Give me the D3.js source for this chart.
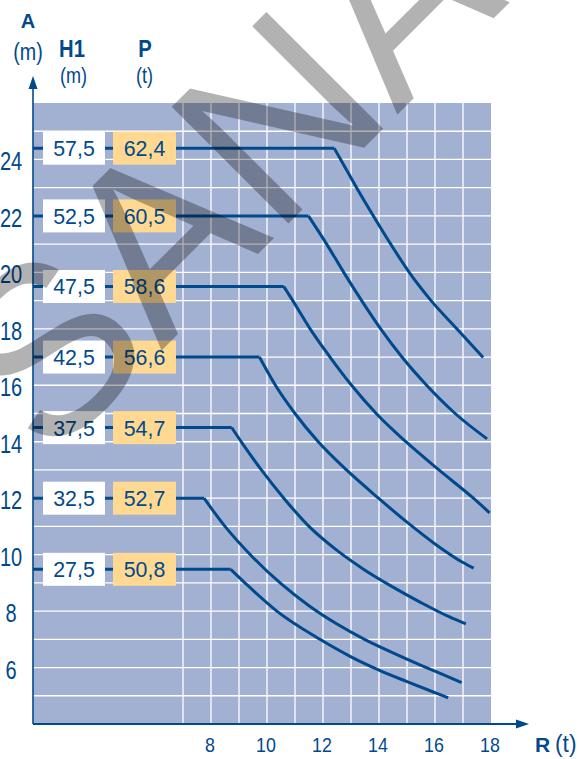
<!DOCTYPE html>
<html lang="de">
<head>
<meta charset="utf-8">
<title>Lastkurven A / R</title>
<script src="https://cdn.jsdelivr.net/npm/d3@7"></script>
<style>
  body { margin: 0; background: #fff; }
  svg { display: block; }
  text { font-family: "Liberation Sans", Arial, sans-serif; fill: #00498c; }
  .bold { font-weight: bold; }
</style>
</head>
<body>
<script>
// label columns next to each curve
var hookHeights = ["57,5", "52,5", "47,5", "42,5", "37,5", "32,5", "27,5"];
var loads = ["62,4", "60,5", "58,6", "56,6", "54,7", "52,7", "50,8"];

// curves: [R (t), A (m)], first point = end of the flat part
var curve1 = [[12.4, 24.4], [12.63, 24], [13.2, 23], [13.8, 22], [14.42, 21], [15.08, 20], [15.86, 19], [16.78, 18], [17.72, 16.98]];
var curve2 = [[11.48, 22], [12.13, 21], [12.74, 20], [13.38, 19], [14.06, 18], [14.82, 17], [15.7, 16], [16.72, 15], [17.86, 14.1]];
var curve3 = [[10.6, 19.5], [10.92, 19], [11.54, 18], [12.25, 17], [13.02, 16], [13.9, 15], [14.96, 14], [16.14, 13], [17.37, 12], [17.95, 11.48]];
var curve4 = [[9.73, 17], [10.3, 16], [11.0, 15], [11.83, 14], [12.84, 13], [13.98, 12], [15, 11.15], [16, 10.38], [17, 9.72], [17.38, 9.52]];
var curve5 = [[8.74, 14.5], [9.15, 13.9], [9.8, 13], [10.6, 12], [11.5, 11], [12.5, 10.15], [13.5, 9.45], [14.5, 8.85], [15.5, 8.3], [16.5, 7.8], [17.1, 7.55]];
var curve6 = [[7.75, 12], [8.5, 11], [9.5, 9.9], [10.5, 8.97], [11.5, 8.19], [12.5, 7.54], [13.5, 6.99], [14.5, 6.52], [15.5, 6.08], [16.5, 5.66], [16.95, 5.47]];
var curve7 = [[8.7, 9.48], [9.21, 9], [10.35, 8], [11.89, 7], [13, 6.38], [14, 5.91], [15, 5.5], [16, 5.11], [16.47, 4.93]];
var curves = [curve1, curve2, curve3, curve4, curve5, curve6, curve7];

var xTicks = [8, 10, 12, 14, 16, 18];
var yTicks = [6, 8, 10, 12, 14, 16, 18, 20, 22, 24];

var W = 579, H = 759;
var blue = "#00498c";
var plotLeft = 33;

var x = d3.scaleLinear().domain([7, 18]).range([183, 491]);
var y = d3.scaleLinear().domain([4, 26]).range([724, 103]);

var svg = d3.select("body").append("svg")
  .attr("width", W)
  .attr("height", H);

// background
svg.append("rect")
  .attr("x", plotLeft)
  .attr("y", y(26))
  .attr("width", x(18) - plotLeft)
  .attr("height", y(4) - y(26))
  .attr("fill", "#a2b1d2");

// grid
svg.append("g").selectAll("line")
  .data(d3.range(5, 26))
  .enter().append("line")
  .attr("x1", plotLeft).attr("x2", x(18))
  .attr("y1", d => y(d)).attr("y2", d => y(d))
  .attr("stroke", "#fff").attr("stroke-width", 1.3);

svg.append("g").selectAll("line")
  .data(d3.range(7, 18))
  .enter().append("line")
  .attr("x1", d => x(d)).attr("x2", d => x(d))
  .attr("y1", y(26)).attr("y2", y(4))
  .attr("stroke", "#fff").attr("stroke-width", 1.3);

// curves
var line = d3.line()
  .x(d => x(d[0]))
  .y(d => y(d[1]))
  .curve(d3.curveMonotoneX);

curves.forEach(function(c) {
  // flat part from the axis to the knee
  svg.append("line")
    .attr("x1", plotLeft).attr("x2", x(c[0][0]))
    .attr("y1", y(c[0][1])).attr("y2", y(c[0][1]))
    .attr("stroke", blue).attr("stroke-width", 3);
  svg.append("path")
    .attr("d", line(c))
    .attr("fill", "none")
    .attr("stroke", blue)
    .attr("stroke-width", 3);
});

// condensed text helper
function ctext(txt, px, py, size, sx, cls, anchor) {
  return svg.append("text")
    .attr("class", cls || null)
    .attr("transform", "translate(" + px + "," + py + ") scale(" + sx + ",1)")
    .attr("text-anchor", anchor || "middle")
    .attr("font-size", size)
    .text(txt);
}

// label boxes
curves.forEach(function(c, i) {
  var cy = y(c[0][1]);
  svg.append("rect")
    .attr("x", 43).attr("y", cy - 16.5)
    .attr("width", 62).attr("height", 33)
    .attr("fill", "#fff");
  svg.append("rect")
    .attr("x", 113).attr("y", cy - 16.5)
    .attr("width", 63).attr("height", 33)
    .attr("fill", "#ffd892");
  ctext(hookHeights[i], 74, cy + 8, 22, 0.97);
  ctext(loads[i], 144.5, cy + 8, 22, 0.97);
});

// axes
svg.append("line")
  .attr("x1", plotLeft).attr("x2", plotLeft)
  .attr("y1", y(4)).attr("y2", 88)
  .attr("stroke", blue).attr("stroke-width", 1.6);
svg.append("path")
  .attr("d", "M" + plotLeft + ",76L" + (plotLeft - 4.5) + ",89L" + (plotLeft + 4.5) + ",89Z")
  .attr("fill", blue);
svg.append("line")
  .attr("x1", plotLeft).attr("x2", 517)
  .attr("y1", y(4)).attr("y2", y(4))
  .attr("stroke", blue).attr("stroke-width", 2);
svg.append("path")
  .attr("d", "M529," + y(4) + "L516," + (y(4) - 4.5) + "L516," + (y(4) + 4.5) + "Z")
  .attr("fill", blue);

// tick labels
xTicks.forEach(function(d) {
  ctext(d, x(d) - 1, 752, 21, 0.85);
});
yTicks.forEach(function(d) {
  ctext(d, 11, y(d) + 11, 25, 0.8);
});

// headers
ctext("A", 28, 28, 20, 1, "bold");
ctext("(m)", 28, 60, 24, 0.82);
ctext("H1", 72, 57, 23, 0.88, "bold");
ctext("(m)", 73.5, 83, 22, 0.82);
ctext("P", 145, 57, 23, 0.88, "bold");
ctext("(t)", 144.5, 83, 22, 0.82);

ctext("R", 535, 752, 21, 1, "bold", "start");
ctext("(t)", 555, 752, 24, 0.95, null, "start");

// watermark
svg.append("text")
  .attr("transform", "translate(48,464) rotate(-45)")
  .attr("font-size", 240)
  .style("fill", "#000")
  .attr("fill-opacity", 0.3)
  .text("SANA");
</script>
</body>
</html>
